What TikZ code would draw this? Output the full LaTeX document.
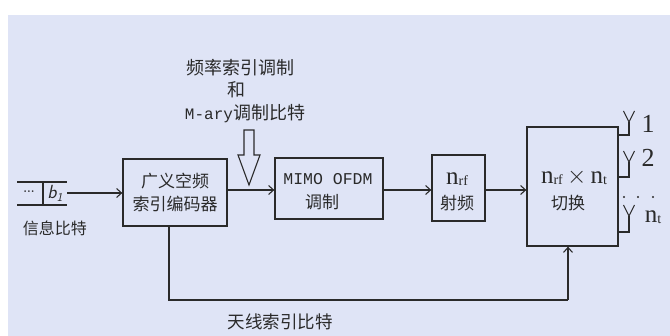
\documentclass[tikz,border=0pt]{standalone}
\usepackage{fontspec}
\newfontfamily\cjk{Noto Sans CJK SC}
\newfontfamily\mono{Liberation Mono}
\newfontfamily\serf{Liberation Serif}
\usetikzlibrary{arrows.meta}
\definecolor{bg}{HTML}{DFE4F6}
\definecolor{ink}{HTML}{2A2A2A}
\begin{document}
\begin{tikzpicture}[x=1pt,y=-1pt, line width=1.1pt, draw=ink,
  box/.style={draw=ink, line width=1.3pt, inner sep=0pt, align=center, text=ink,
    font=\cjk\fontsize{17}{23}\selectfont},
  arr/.style={-{Straight Barb[length=5pt,width=9pt]}},
  lab/.style={inner sep=0pt, text=ink, font=\cjk\fontsize{17}{20}\selectfont},
  nf/.style={font=\serf\fontsize{25}{26}\selectfont},
  sub/.style={},
]
\useasboundingbox (0,0) rectangle (670,336);
\fill[white] (0,0) rectangle (670,336);
\fill[bg] (8,15) rectangle (670,336);

% blocks
\node[box, minimum width=104pt, minimum height=67pt] (enc) at (175,192.5) {广义空频\\索引编码器};
\node[box, minimum width=108pt, minimum height=61pt] (mimo) at (329,188.5) {};
\node[box, minimum width=53pt, minimum height=66pt] (rf) at (458.5,188) {};
\node[box, minimum width=91pt, minimum height=119pt] (sw) at (572.5,186.5) {};

\node[lab, font=\mono\fontsize{16.5}{17}\selectfont] (mimoA) at (328,179) {MIMO OFDM};
\node[lab] (mimoB) at (322,202) {调制};
\node[lab, nf] (rfA) at (457,179) {n\raisebox{-1pt}{\fontsize{14}{15}\selectfont rf}};
\node[lab] (rfB) at (457,203) {射频};
\node[lab, nf] (swA) at (574,177) {n\raisebox{-1pt}{\fontsize{14}{15}\selectfont rf}\,{\fontsize{24}{26}\selectfont$\times$}\,n\raisebox{-1pt}{\fontsize{14}{15}\selectfont t}};
\node[lab] (swB) at (568,203) {切换};

% input register
\coordinate (r1) at (17,182);
\coordinate (r2) at (67,182);
\coordinate (r3) at (17,205);
\coordinate (r4) at (67,205);
\coordinate (rv1) at (43,182);
\coordinate (rv2) at (43,205);
\draw (r1) -- (r2);
\draw (r3) -- (r4);
\draw (rv1) -- (rv2);
\node[lab, font=\bfseries\fontsize{12}{12}\selectfont] (dots) at (29,192) {...};
\node[lab, font=\sffamily\itshape\fontsize{19}{20}\selectfont] (b1) at (55,193) {b\raisebox{-3pt}{\fontsize{12}{12}\selectfont 1}};
\coordinate (inend) at (67,193);
\draw[arr] (inend) -- (inend -| enc.west);
\node[lab, font=\cjk\fontsize{16}{18}\selectfont] (info) at (55,228) {信息比特};

% main chain
\draw[arr] (enc.east |- 0,190) -- (mimo.west |- 0,190);
\draw[arr] (mimo.east |- 0,190) -- (rf.west |- 0,190);
\draw[arr] (rf.east |- 0,190) -- (sw.west |- 0,190);

% hollow arrow and its text
\draw[line width=1.1pt, line join=miter] (244,130) -- (254,130) -- (254,155) -- (260,155) -- (249,185) -- (238,155) -- (244,155) -- cycle;
\node[lab, font=\cjk\fontsize{18}{20}\selectfont] (t1) at (240,68) {频率索引调制};
\node[lab, font=\cjk\fontsize{18}{20}\selectfont] (t2) at (236,90) {和};
\node[lab, font=\cjk\fontsize{18}{20}\selectfont] (t3) at (245,114) {{\mono\fontsize{16}{17}\selectfont M-ary}调制比特};

% feedback
\coordinate (fbl) at (169,300);
\coordinate (fbr) at (568,300);
\draw (enc.south -| fbl) -- (fbl) -- (fbr);
\draw[arr] (fbr) -- (fbr |- sw.south);
\node[lab, font=\cjk\fontsize{17.5}{20}\selectfont] (ant) at (280,322) {天线索引比特};

% antennas
\foreach \hy/\ty in {135/111, 177/151, 232/205} {
  \draw (sw.east |- 0,\hy) -- (629,\hy) -- (629,\ty+11);
  \draw (623.5,\ty) -- (629,\ty+11) -- (634.5,\ty);
}
\node[lab, font=\serf\fontsize{26}{28}\selectfont] (a1) at (648,124) {1};
\node[lab, font=\serf\fontsize{26}{28}\selectfont] (a2) at (648,158) {2};
\node[lab, nf] (a3) at (653,217) {n\raisebox{-1pt}{\fontsize{14}{15}\selectfont t}};
\fill[ink] (624,197) circle (1.1) (638,197) circle (1.1) (653,197) circle (1.1);
\end{tikzpicture}
\end{document}
